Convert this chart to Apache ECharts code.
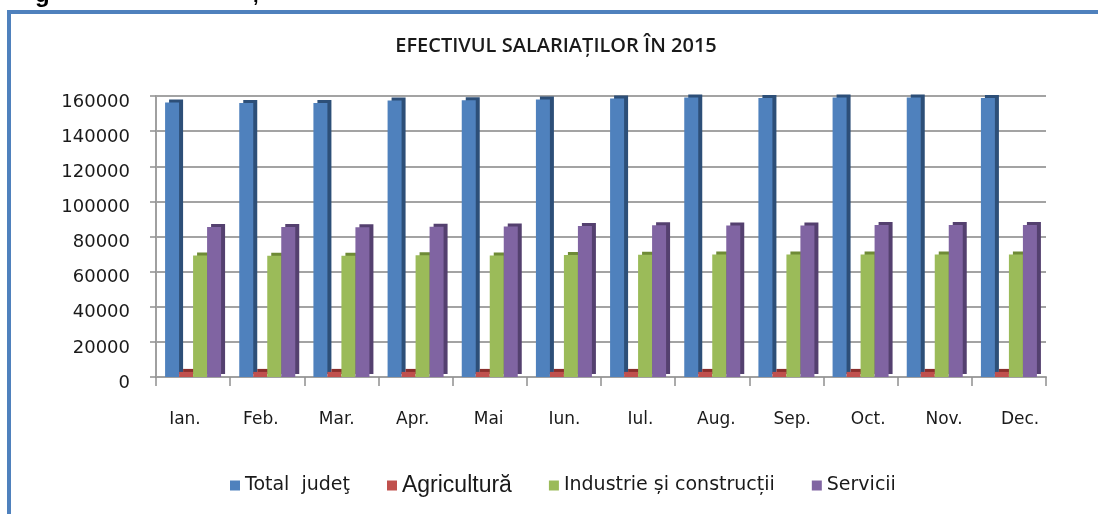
<!DOCTYPE html>
<html>
<head>
<meta charset="utf-8">
<title>Efectivul salariatilor in 2015</title>
<script src="https://cdn.jsdelivr.net/npm/echarts@6/dist/echarts.min.js"></script>
<style>
    html, body { margin: 0; padding: 0; background: #fff; }
    #chart { width: 1098px; height: 514px; }
</style>
</head>
<body>
<div id="chart"></div>
<script>
// date
var luni = ['Ian.', 'Feb.', 'Mar.', 'Apr.', 'Mai', 'Iun.', 'Iul.', 'Aug.', 'Sep.', 'Oct.', 'Nov.', 'Dec.'];
var totalJudet = [156300, 156000, 156000, 157400, 157600, 158000, 158600, 159100, 158900, 159100, 159100, 158900];
var agricultura = [2900, 2900, 2900, 2900, 2900, 2900, 2900, 2900, 2900, 2900, 2900, 2900];
var industrie = [69200, 69000, 69100, 69300, 69200, 69400, 69600, 69700, 69700, 69800, 69700, 69700];
var servicii = [85400, 85400, 85300, 85500, 85700, 86000, 86400, 86300, 86200, 86600, 86500, 86500];
var yTicks = [0, 20000, 40000, 60000, 80000, 100000, 120000, 140000, 160000];

(function(window){
    var fontAx = 'DejaVu Sans';

    function serie(name, data, color, side){
        return {
            name: name,
            type: 'bar',
            data: data,
            barWidth: 14,
            barGap: '0%',
            itemStyle: {
                color: color,
                shadowColor: side,
                shadowBlur: 0,
                shadowOffsetX: 4,
                shadowOffsetY: -3
            }
        };
    }

    function initChart(el){
        var chart = echarts.init(el, null, {renderer: 'canvas'});
        var option = {
            animation: false,
            backgroundColor: '#fff',
            title: {
                text: 'EFECTIVUL SALARIAȚILOR ÎN 2015',
                left: 551,
                textAlign: 'center',
                top: 31,
                textStyle: {
                    fontFamily: 'Open Sans',
                    fontWeight: 600,
                    fontSize: 20,
                    color: '#1a1a1a'
                }
            },
            legend: {
                top: 469,
                left: 225,
                icon: 'rect',
                itemWidth: 10,
                itemHeight: 10,
                itemGap: 37,
                formatter: function(name){
                    if(name === 'Agricultură'){
                        return '{a|' + name + '}';
                    }
                    return name;
                },
                textStyle: {
                    fontFamily: fontAx,
                    fontSize: 19,
                    color: '#1a1a1a',
                    rich: {
                        a: { fontFamily: 'Liberation Sans', fontSize: 23, color: '#1a1a1a' }
                    }
                }
            },
            // grila 0: barele; grila 1: doar etichetele lunilor (usor mai late, ca in perspectiva 3D)
            grid: [
                { left: 156, right: 52, top: 96, bottom: 137 },
                { left: 147, right: 40, top: 96, bottom: 137 }
            ],
            xAxis: [
                {
                    type: 'category',
                    data: luni,
                    offset: 3,
                    axisLine: { lineStyle: { color: '#a0a0a0', width: 2 } },
                    axisTick: { show: true, length: 9, lineStyle: { color: '#909090', width: 1.5 } },
                    axisLabel: { show: false },
                    splitLine: { show: false }
                },
                {
                    type: 'category',
                    gridIndex: 1,
                    data: luni,
                    axisLine: { show: false },
                    axisTick: { show: false },
                    axisLabel: {
                        margin: 34,
                        fontFamily: fontAx,
                        fontSize: 17,
                        color: '#1a1a1a'
                    },
                    splitLine: { show: false }
                }
            ],
            yAxis: [
                {
                    type: 'value',
                    min: yTicks[0],
                    max: yTicks[yTicks.length - 1],
                    interval: yTicks[1] - yTicks[0],
                    axisLine: { show: true, lineStyle: { color: '#a0a0a0', width: 2 } },
                    axisTick: { show: true, length: 6, lineStyle: { color: '#909090', width: 1.5 } },
                    axisLabel: {
                        margin: 26,
                        verticalAlign: 'top',
                        lineHeight: 12,
                        fontFamily: fontAx,
                        fontSize: 18,
                        color: '#1a1a1a',
                        formatter: function(v){ return String(v); }
                    },
                    splitLine: { show: true, lineStyle: { color: '#a3a3a3', width: 2 } }
                },
                {
                    type: 'value',
                    gridIndex: 1,
                    show: false,
                    min: yTicks[0],
                    max: yTicks[yTicks.length - 1]
                }
            ],
            graphic: [
                {
                    type: 'rect',
                    silent: true,
                    shape: { x: 9, y: 12, width: 1200, height: 700 },
                    style: { fill: 'none', stroke: '#4f81bd', lineWidth: 4 }
                },
                {
                    type: 'text',
                    silent: true,
                    x: 35,
                    y: -5,
                    style: { text: 'g', font: 'bold 24px "Liberation Sans"', fill: '#000', verticalAlign: 'middle' }
                },
                {
                    type: 'text',
                    silent: true,
                    x: 253,
                    y: -4,
                    style: { text: ',', font: 'bold 20px "Liberation Sans"', fill: '#000', verticalAlign: 'middle' }
                }
            ],
            series: [
                serie('Total  judeţ', totalJudet, '#4f81bd', '#2d4f78'),
                serie('Agricultură', agricultura, '#c0504d', '#8a2f2c'),
                serie('Industrie și construcții', industrie, '#9bbb59', '#6e8a36'),
                serie('Servicii', servicii, '#8064a2', '#54406f')
            ]
        };
        chart.setOption(option);
        return chart;
    }

    var chartEl = document.getElementById('chart');
    initChart(chartEl);
})(window);
</script>
</body>
</html>
